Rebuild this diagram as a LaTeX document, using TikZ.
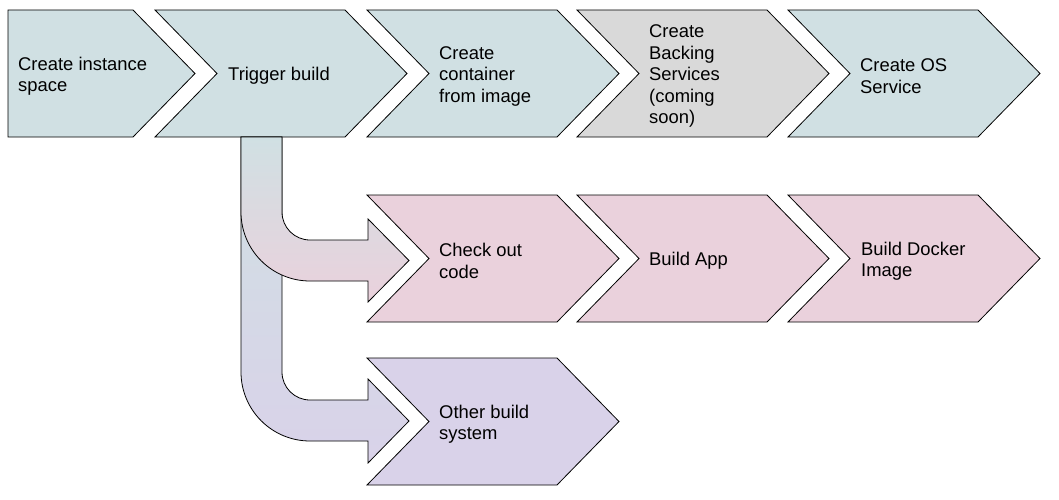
\documentclass[tikz,border=0pt]{standalone}
\usepackage{fontspec}
\setmainfont{Liberation Sans}
\definecolor{cyanlt}{HTML}{D0E0E3}
\definecolor{graylt}{HTML}{D9D9D9}
\definecolor{pinklt}{HTML}{EAD1DC}
\definecolor{lavlt}{HTML}{D9D2E9}
\newcommand\chevshape[3]{\filldraw[shp,fill=#3] (#1,#2) -- ++(190,0) -- ++(62,63.5) -- ++(-62,63.5) -- ++(-190,0) -- ++(62,-63.5) -- cycle;}
\begin{document}
\begin{tikzpicture}[x=1pt,y=-1pt,
  shp/.style={draw=black,line width=0.8pt,line join=miter},
  lbl/.style={anchor=west,align=left,inner sep=0pt,yshift=-2.5pt,font=\fontsize{18.4}{21.5}\selectfont},
]
\useasboundingbox (0,0) rectangle (1059,500);
% top row
\filldraw[shp,fill=cyanlt] (8,10) -- (133,10) -- (195,73.5) -- (133,137) -- (8,137) -- cycle;
\chevshape{155}{10}{cyanlt}
\chevshape{367}{10}{cyanlt}
\chevshape{577}{10}{graylt}
\chevshape{788}{10}{cyanlt}
% middle row
\chevshape{367}{195}{pinklt}
\chevshape{577}{195}{pinklt}
\chevshape{788}{195}{pinklt}
% bottom row
\chevshape{367}{358}{lavlt}
% curved arrows
\path[shp,top color=cyanlt,bottom color=lavlt] (241,137) -- (282,137) -- (282,372) arc[start angle=180,end angle=90,radius=28] -- (368,400) -- (368,379) -- (409,421) -- (368,463) -- (368,441) -- (310,441) arc[start angle=90,end angle=180,radius=69] -- cycle;
\path[shp,top color=cyanlt,bottom color=pinklt] (241,137) -- (282,137) -- (282,212) arc[start angle=180,end angle=90,radius=28] -- (368,240) -- (368,219) -- (409,260.5) -- (368,302) -- (368,281) -- (310,281) arc[start angle=90,end angle=180,radius=69] -- cycle;
% labels
\node[lbl] (create) at (18,73.5) {Create instance\\space};
\node[lbl] (trigger) at (228,73.5) {Trigger build};
\node[lbl] (container) at (439,73.5) {Create\\container\\from image};
\node[lbl] (backing) at (649,73.5) {Create\\Backing\\Services\\(coming\\soon)};
\node[lbl] (ossvc) at (860,73.5) {Create OS\\Service};
\node[lbl] (checkout) at (439,258.5) {Check out\\code};
\node[lbl] (buildapp) at (649,258.5) {Build App};
\node[lbl] (docker) at (861,258.5) {Build Docker\\Image};
\node[lbl] (other) at (439,421.5) {Other build\\system};
\end{tikzpicture}
\end{document}
